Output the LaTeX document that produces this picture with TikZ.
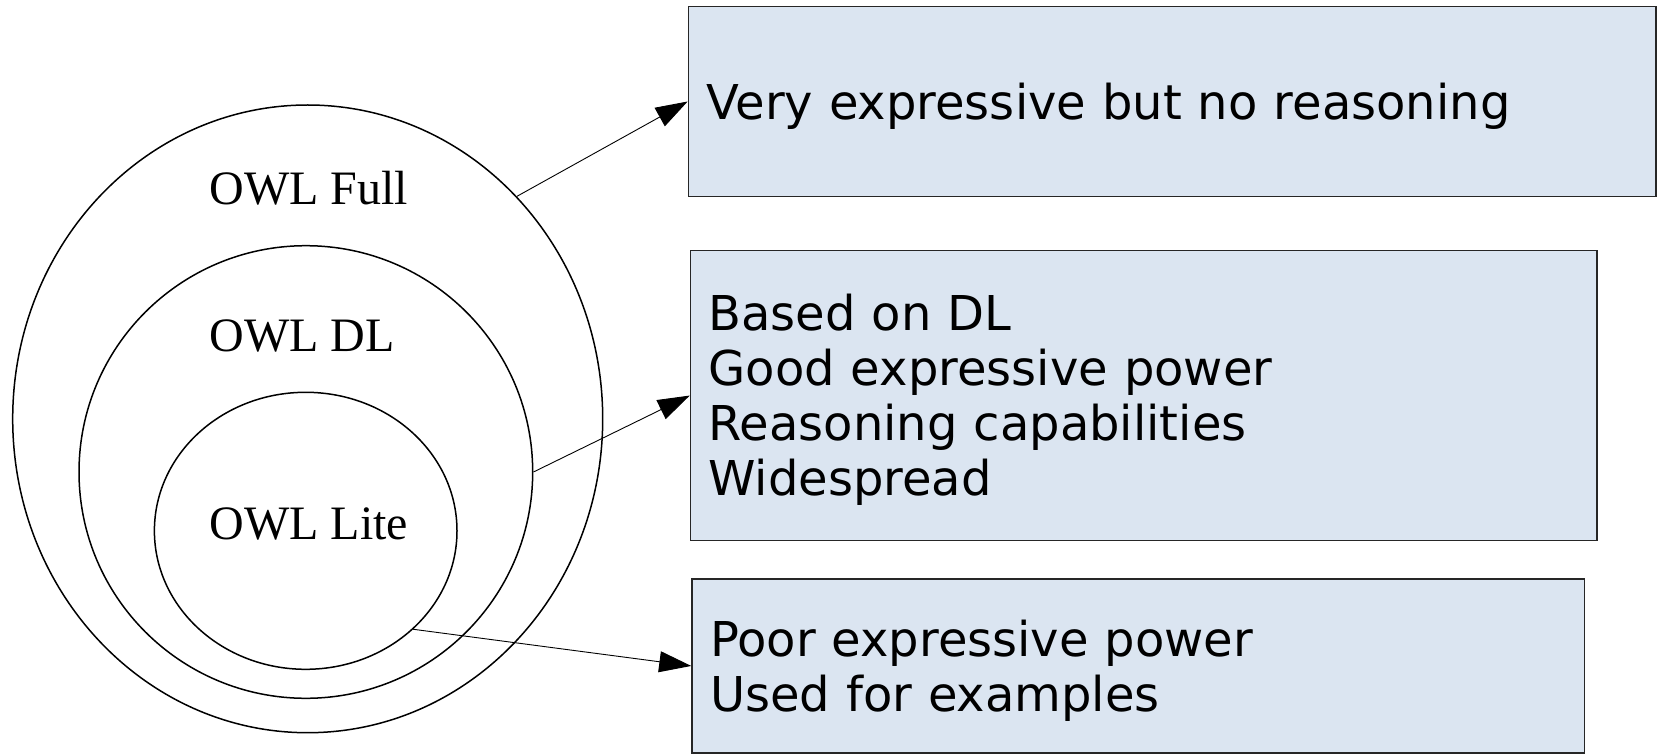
\documentclass[tikz,border=0pt]{standalone}
\usepackage{fontspec}
\setmainfont{Liberation Serif}
\newfontfamily\notefont{DejaVu Sans}
\usetikzlibrary{shapes.geometric,arrows.meta}
\definecolor{notefill}{HTML}{DBE5F1}
\begin{document}
\begin{tikzpicture}[x=0.5pt,y=-0.5pt,
  level/.style={ellipse, draw=black, line width=0.75pt, inner sep=0pt},
  levellabel/.style={anchor=base west, inner sep=0pt, font=\fontsize{24}{28}\selectfont},
  note/.style={draw=black!85, fill=notefill, line width=0.75pt, inner xsep=9pt,
    inner ysep=0pt, align=left, font=\notefont\fontsize{24}{27.5}\selectfont,
    execute at begin node={\rule{0pt}{22.8pt}}},
  link/.style={line width=0.45pt, -{Triangle[length=16pt,width=10.5pt]}}]
\useasboundingbox (0,0) rectangle (1658,754);

% nested language levels
\node[level, minimum width=295pt, minimum height=313.85pt] (full) at (307.7,418.85) {};
\node[level, minimum width=226.85pt, minimum height=226.3pt] (dl) at (305.85,472) {};
\node[level, minimum width=151.3pt, minimum height=138.5pt] (lite) at (305.7,530.8) {};

\node[levellabel] (fulllabel) at (209,205) {OWL Full};
\node[levellabel] (dllabel) at (209,351.7) {OWL DL};
\node[levellabel] (litelabel) at (209,539.3) {OWL Lite};

% descriptions
\node[note, text width=465.75pt, minimum height=95.2pt] (fullnote) at (1172.15,101.5)
  {Very expressive but no reasoning};
\node[note, text width=435.25pt, minimum height=145pt] (dlnote) at (1143.75,395.55)
  {Based on DL\\Good expressive power\\Reasoning capabilities\\Widespread};
\node[note, text width=428.25pt, minimum height=87pt] (litenote) at (1138.25,665.95)
  {Poor expressive power\\Used for examples};

% connectors
\draw[link] (full.north east) -- (fullnote.west);
\draw[link] (dl.east) -- (dlnote.west);
\draw[link] (lite.south east) -- (litenote.west);
\end{tikzpicture}
\end{document}
